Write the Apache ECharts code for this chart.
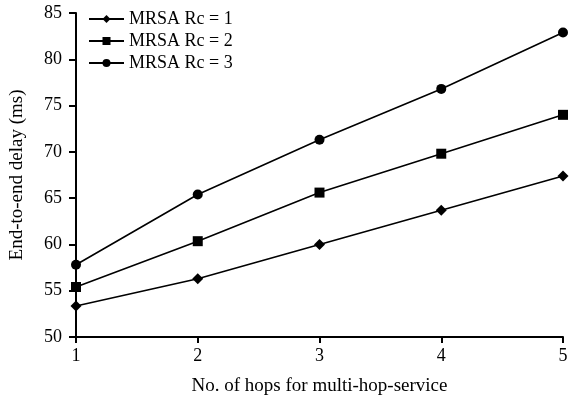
<!DOCTYPE html>
<html><head><meta charset="utf-8">
<script src="https://cdn.jsdelivr.net/npm/echarts@6/dist/echarts.min.js"></script>
<style>html,body{margin:0;padding:0;background:#fff}#c{width:569px;height:404px}</style>
</head><body><div id="c"></div>
<script>
const hops = [1, 2, 3, 4, 5];
const rc1 = [53.35, 56.3, 60.0, 63.7, 67.4];
const rc2 = [55.4, 60.35, 65.6, 69.8, 74.0];
const rc3 = [57.8, 65.4, 71.3, 76.8, 82.9];
const seriesNames = ['MRSA Rc = 1', 'MRSA Rc = 2', 'MRSA Rc = 3'];
const font = 'Liberation Serif';
const pts = v => hops.map((h, i) => [h, v[i]]);
const chart = echarts.init(document.getElementById('c'));
const mk = (name, data, symbol, size) => ({
  name, type: 'line', data: pts(data), symbol, symbolSize: size,
  lineStyle: {color: '#000', width: 1.6}, itemStyle: {color: '#000'},
  animation: false
});
chart.setOption({
  animation: false,
  grid: {left: 76, right: 6, top: 13, bottom: 67, containLabel: false, outerBoundsMode: 'none'},
  legend: {
    orient: 'vertical', left: 83, top: 5, itemWidth: 35, itemHeight: 10, itemGap: 4,
    textStyle: {fontFamily: font, fontSize: 18, color: '#000'},
    data: seriesNames
  },
  xAxis: {
    type: 'value', min: 1, max: 5, interval: 1,
    name: 'No. of hops for multi-hop-service', nameLocation: 'middle', nameGap: 40,
    nameTextStyle: {fontFamily: font, fontSize: 19, color: '#000'},
    axisLine: {lineStyle: {color: '#000', width: 2}},
    axisTick: {show: true, inside: false, length: 6, lineStyle: {color: '#000', width: 2}},
    axisLabel: {fontFamily: font, fontSize: 18, color: '#000', margin: 10},
    splitLine: {show: false}
  },
  yAxis: {
    type: 'value', min: 50, max: 85, interval: 5,
    name: 'End-to-end delay (ms)', nameLocation: 'middle', nameGap: 49,
    nameTextStyle: {fontFamily: font, fontSize: 19, color: '#000'},
    axisLine: {show: true, lineStyle: {color: '#000', width: 2}},
    axisTick: {show: true, inside: false, length: 7, lineStyle: {color: '#000', width: 2}},
    axisLabel: {fontFamily: font, fontSize: 18, color: '#000', margin: 14},
    splitLine: {show: false}
  },
  series: [
    mk(seriesNames[0], rc1, 'diamond', 11),
    mk(seriesNames[1], rc2, 'rect', 10),
    mk(seriesNames[2], rc3, 'circle', 10)
  ]
});
</script></body></html>
